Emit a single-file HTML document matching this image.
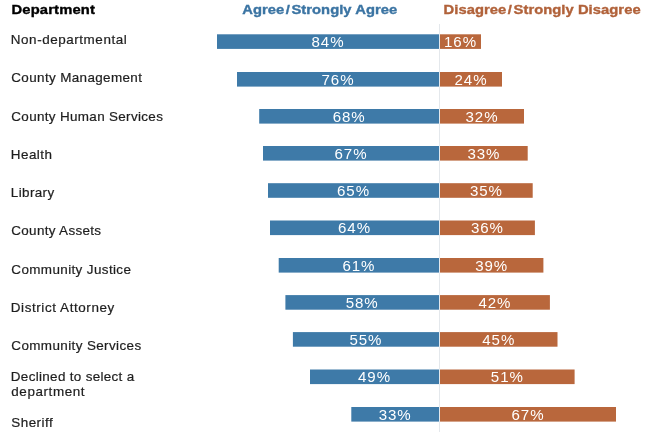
<!DOCTYPE html>
<html><head><meta charset="utf-8"><style>
html,body{margin:0;padding:0;background:#fff;width:648px;height:432px;overflow:hidden}
svg{display:block;will-change:transform}
text{font-family:"Liberation Sans",sans-serif}
.l{font-size:12.7px;stroke-width:0.2px}
.h{font-size:12.3px;font-weight:bold;stroke-width:0.35px}
.p{font-size:14.8px;fill:#fff;text-anchor:middle;letter-spacing:0.9px}
</style></head><body>
<svg width="648" height="432" viewBox="0 0 648 432">
<rect x="439" y="24" width="1" height="408" fill="#e4e8ec"/>
<rect x="217.0" y="34.3" width="222.00" height="14.6" fill="#3e7aa8"/>
<rect x="440" y="34.3" width="41.00" height="14.6" fill="#b9673c"/>
<rect x="237.0" y="72.0" width="202.00" height="14.6" fill="#3e7aa8"/>
<rect x="440" y="72.0" width="62.00" height="14.6" fill="#b9673c"/>
<rect x="259.2" y="109.0" width="179.80" height="14.6" fill="#3e7aa8"/>
<rect x="440" y="109.0" width="84.00" height="14.6" fill="#b9673c"/>
<rect x="263.0" y="146.0" width="176.00" height="14.6" fill="#3e7aa8"/>
<rect x="440" y="146.0" width="87.70" height="14.6" fill="#b9673c"/>
<rect x="268.0" y="183.2" width="171.00" height="14.6" fill="#3e7aa8"/>
<rect x="440" y="183.2" width="92.70" height="14.6" fill="#b9673c"/>
<rect x="270.0" y="220.5" width="169.00" height="14.6" fill="#3e7aa8"/>
<rect x="440" y="220.5" width="94.90" height="14.6" fill="#b9673c"/>
<rect x="278.7" y="258.0" width="160.30" height="14.6" fill="#3e7aa8"/>
<rect x="440" y="258.0" width="103.40" height="14.6" fill="#b9673c"/>
<rect x="285.4" y="295.1" width="153.60" height="14.6" fill="#3e7aa8"/>
<rect x="440" y="295.1" width="109.90" height="14.6" fill="#b9673c"/>
<rect x="292.9" y="332.1" width="146.10" height="14.6" fill="#3e7aa8"/>
<rect x="440" y="332.1" width="117.50" height="14.6" fill="#b9673c"/>
<rect x="310.0" y="369.5" width="129.00" height="14.6" fill="#3e7aa8"/>
<rect x="440" y="369.5" width="134.60" height="14.6" fill="#b9673c"/>
<rect x="351.3" y="407.0" width="87.70" height="14.6" fill="#3e7aa8"/>
<rect x="440" y="407.0" width="176.00" height="14.6" fill="#b9673c"/>
<text x="0" y="47.00" class="p" transform="matrix(1.02 0 0 1 328.00 0)">84%</text>
<text x="0" y="47.00" class="p" transform="matrix(1.02 0 0 1 460.50 0)">16%</text>
<text x="0" y="84.70" class="p" transform="matrix(1.02 0 0 1 338.00 0)">76%</text>
<text x="0" y="84.70" class="p" transform="matrix(1.02 0 0 1 471.00 0)">24%</text>
<text x="0" y="121.70" class="p" transform="matrix(1.02 0 0 1 349.10 0)">68%</text>
<text x="0" y="121.70" class="p" transform="matrix(1.02 0 0 1 482.00 0)">32%</text>
<text x="0" y="158.70" class="p" transform="matrix(1.02 0 0 1 351.00 0)">67%</text>
<text x="0" y="158.70" class="p" transform="matrix(1.02 0 0 1 483.85 0)">33%</text>
<text x="0" y="195.90" class="p" transform="matrix(1.02 0 0 1 353.50 0)">65%</text>
<text x="0" y="195.90" class="p" transform="matrix(1.02 0 0 1 486.35 0)">35%</text>
<text x="0" y="233.20" class="p" transform="matrix(1.02 0 0 1 354.50 0)">64%</text>
<text x="0" y="233.20" class="p" transform="matrix(1.02 0 0 1 487.45 0)">36%</text>
<text x="0" y="270.70" class="p" transform="matrix(1.02 0 0 1 358.85 0)">61%</text>
<text x="0" y="270.70" class="p" transform="matrix(1.02 0 0 1 491.70 0)">39%</text>
<text x="0" y="307.80" class="p" transform="matrix(1.02 0 0 1 362.20 0)">58%</text>
<text x="0" y="307.80" class="p" transform="matrix(1.02 0 0 1 494.95 0)">42%</text>
<text x="0" y="344.80" class="p" transform="matrix(1.02 0 0 1 365.95 0)">55%</text>
<text x="0" y="344.80" class="p" transform="matrix(1.02 0 0 1 498.75 0)">45%</text>
<text x="0" y="382.20" class="p" transform="matrix(1.02 0 0 1 374.50 0)">49%</text>
<text x="0" y="382.20" class="p" transform="matrix(1.02 0 0 1 507.30 0)">51%</text>
<text x="0" y="419.70" class="p" transform="matrix(1.02 0 0 1 395.15 0)">33%</text>
<text x="0" y="419.70" class="p" transform="matrix(1.02 0 0 1 528.00 0)">67%</text>
<text x="0" y="43.90" class="l" fill="#1e1e1e" stroke="#1e1e1e" letter-spacing="0.519" transform="matrix(1.0600 0 0 1 10.800 0)">Non-departmental</text>
<text x="0" y="82.22" class="l" fill="#1e1e1e" stroke="#1e1e1e" letter-spacing="0.339" transform="matrix(1.0600 0 0 1 11.300 0)">County Management</text>
<text x="0" y="120.54" class="l" fill="#1e1e1e" stroke="#1e1e1e" letter-spacing="0.307" transform="matrix(1.0600 0 0 1 11.300 0)">County Human Services</text>
<text x="0" y="158.86" class="l" fill="#1e1e1e" stroke="#1e1e1e" letter-spacing="0.425" transform="matrix(1.0600 0 0 1 10.800 0)">Health</text>
<text x="0" y="197.18" class="l" fill="#1e1e1e" stroke="#1e1e1e" letter-spacing="0.354" transform="matrix(1.0600 0 0 1 10.800 0)">Library</text>
<text x="0" y="235.50" class="l" fill="#1e1e1e" stroke="#1e1e1e" letter-spacing="0.295" transform="matrix(1.0600 0 0 1 11.300 0)">County Assets</text>
<text x="0" y="273.82" class="l" fill="#1e1e1e" stroke="#1e1e1e" letter-spacing="0.354" transform="matrix(1.0600 0 0 1 11.300 0)">Community Justice</text>
<text x="0" y="312.14" class="l" fill="#1e1e1e" stroke="#1e1e1e" letter-spacing="0.545" transform="matrix(1.0600 0 0 1 10.800 0)">District Attorney</text>
<text x="0" y="350.46" class="l" fill="#1e1e1e" stroke="#1e1e1e" letter-spacing="0.361" transform="matrix(1.0600 0 0 1 11.300 0)">Community Services</text>
<text x="0" y="381.43" class="l" fill="#1e1e1e" stroke="#1e1e1e" letter-spacing="0.298" transform="matrix(1.0600 0 0 1 10.800 0)">Declined to select a</text>
<text x="0" y="396.13" class="l" fill="#1e1e1e" stroke="#1e1e1e" letter-spacing="0.550" transform="matrix(1.0600 0 0 1 11.300 0)">department</text>
<text x="0" y="427.10" class="l" fill="#1e1e1e" stroke="#1e1e1e" letter-spacing="0.432" transform="matrix(1.0600 0 0 1 11.300 0)">Sheriff</text>
<text x="0" y="14.30" class="h" fill="#000" stroke="#000" letter-spacing="0.139" transform="matrix(1.2000 0 0 1 11.450 0)">Department</text>
<text x="0" y="14.35" class="h" fill="#3b74a3" stroke="#3b74a3" letter-spacing="0.033" transform="matrix(1.2000 0 0 1 242.200 0)">Agree<tspan dx="1.3">/</tspan><tspan dx="1.3">Strongly Agree</tspan></text>
<text x="0" y="14.35" class="h" fill="#b1623a" stroke="#b1623a" letter-spacing="0.042" transform="matrix(1.2000 0 0 1 443.550 0)">Disagree<tspan dx="1.3">/</tspan><tspan dx="1.3">Strongly Disagree</tspan></text>
</svg>
</body></html>
